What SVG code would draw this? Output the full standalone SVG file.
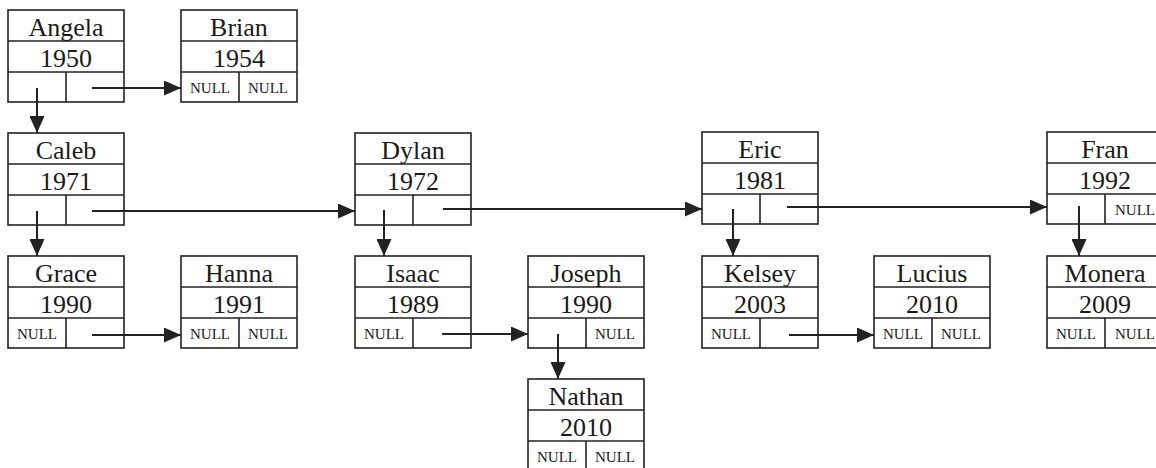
<svg xmlns="http://www.w3.org/2000/svg" width="1156" height="468" viewBox="0 0 1156 468">
<defs>
<style>
.nm { font-family: "Liberation Serif", "Times New Roman", serif; font-size: 26px; fill: #1a1a1a; text-anchor: middle; }
.nl { font-family: "Liberation Serif", "Times New Roman", serif; font-size: 15px; fill: #1a1a1a; text-anchor: middle; }
.conn line { stroke: #222; stroke-width: 2; marker-end: url(#ah); }
</style>
<marker id="ah" markerUnits="userSpaceOnUse" markerWidth="17" markerHeight="15" refX="17" refY="7.5" orient="auto">
<path d="M0,0 L17,7.5 L0,15 Z" fill="#222"/>
</marker>
<g id="shell" fill="none" stroke="#222" stroke-width="1.6">
<rect x="0" y="0" width="116" height="92"/>
<line x1="0" y1="31" x2="116" y2="31"/>
<line x1="0" y1="62" x2="116" y2="62"/>
<line x1="58" y1="62" x2="58" y2="92"/>
</g>
</defs>
<rect width="1156" height="468" fill="#fff"/>

<g id="connectors" class="conn">
<line x1="37" y1="88" x2="37" y2="133"/>
<line x1="92" y1="88" x2="181" y2="88"/>
<line x1="37" y1="211" x2="37" y2="256"/>
<line x1="92" y1="211" x2="355" y2="211"/>
<line x1="384" y1="210" x2="384" y2="256"/>
<line x1="443" y1="209" x2="702" y2="209"/>
<line x1="733" y1="209" x2="733" y2="256"/>
<line x1="787" y1="207" x2="1047" y2="207"/>
<line x1="1079" y1="206" x2="1079" y2="256"/>
<line x1="92" y1="335" x2="181" y2="335"/>
<line x1="442" y1="334" x2="528" y2="334"/>
<line x1="558" y1="334" x2="558" y2="379"/>
<line x1="789" y1="335" x2="874" y2="335"/>
</g>

<g id="angela" transform="translate(8,10)"><use href="#shell"/><text class="nm" x="58" y="26">Angela</text><text class="nm" x="58" y="57">1950</text></g>
<g id="brian" transform="translate(181,10)"><use href="#shell"/><text class="nm" x="58" y="26">Brian</text><text class="nm" x="58" y="57">1954</text><text class="nl" x="29" y="83">NULL</text><text class="nl" x="87" y="83">NULL</text></g>
<g id="caleb" transform="translate(8,133)"><use href="#shell"/><text class="nm" x="58" y="26">Caleb</text><text class="nm" x="58" y="57">1971</text></g>
<g id="dylan" transform="translate(355,133)"><use href="#shell"/><text class="nm" x="58" y="26">Dylan</text><text class="nm" x="58" y="57">1972</text></g>
<g id="eric" transform="translate(702,132)"><use href="#shell"/><text class="nm" x="58" y="26">Eric</text><text class="nm" x="58" y="57">1981</text></g>
<g id="fran" transform="translate(1047,132)"><use href="#shell"/><text class="nm" x="58" y="26">Fran</text><text class="nm" x="58" y="57">1992</text><text class="nl" x="88" y="83">NULL</text></g>
<g id="grace" transform="translate(8,256)"><use href="#shell"/><text class="nm" x="58" y="26">Grace</text><text class="nm" x="58" y="57">1990</text><text class="nl" x="29" y="83">NULL</text></g>
<g id="hanna" transform="translate(181,256)"><use href="#shell"/><text class="nm" x="58" y="26">Hanna</text><text class="nm" x="58" y="57">1991</text><text class="nl" x="29" y="83">NULL</text><text class="nl" x="87" y="83">NULL</text></g>
<g id="isaac" transform="translate(355,256)"><use href="#shell"/><text class="nm" x="58" y="26">Isaac</text><text class="nm" x="58" y="57">1989</text><text class="nl" x="29" y="83">NULL</text></g>
<g id="joseph" transform="translate(528,256)"><use href="#shell"/><text class="nm" x="58" y="26">Joseph</text><text class="nm" x="58" y="57">1990</text><text class="nl" x="87" y="83">NULL</text></g>
<g id="kelsey" transform="translate(702,256)"><use href="#shell"/><text class="nm" x="58" y="26">Kelsey</text><text class="nm" x="58" y="57">2003</text><text class="nl" x="29" y="83">NULL</text></g>
<g id="lucius" transform="translate(874,256)"><use href="#shell"/><text class="nm" x="58" y="26">Lucius</text><text class="nm" x="58" y="57">2010</text><text class="nl" x="29" y="83">NULL</text><text class="nl" x="87" y="83">NULL</text></g>
<g id="monera" transform="translate(1047,256)"><use href="#shell"/><text class="nm" x="58" y="26">Monera</text><text class="nm" x="58" y="57">2009</text><text class="nl" x="29" y="83">NULL</text><text class="nl" x="88" y="83">NULL</text></g>
<g id="nathan" transform="translate(528,379)"><use href="#shell"/><text class="nm" x="58" y="26">Nathan</text><text class="nm" x="58" y="57">2010</text><text class="nl" x="29" y="83">NULL</text><text class="nl" x="87" y="83">NULL</text></g>
</svg>
